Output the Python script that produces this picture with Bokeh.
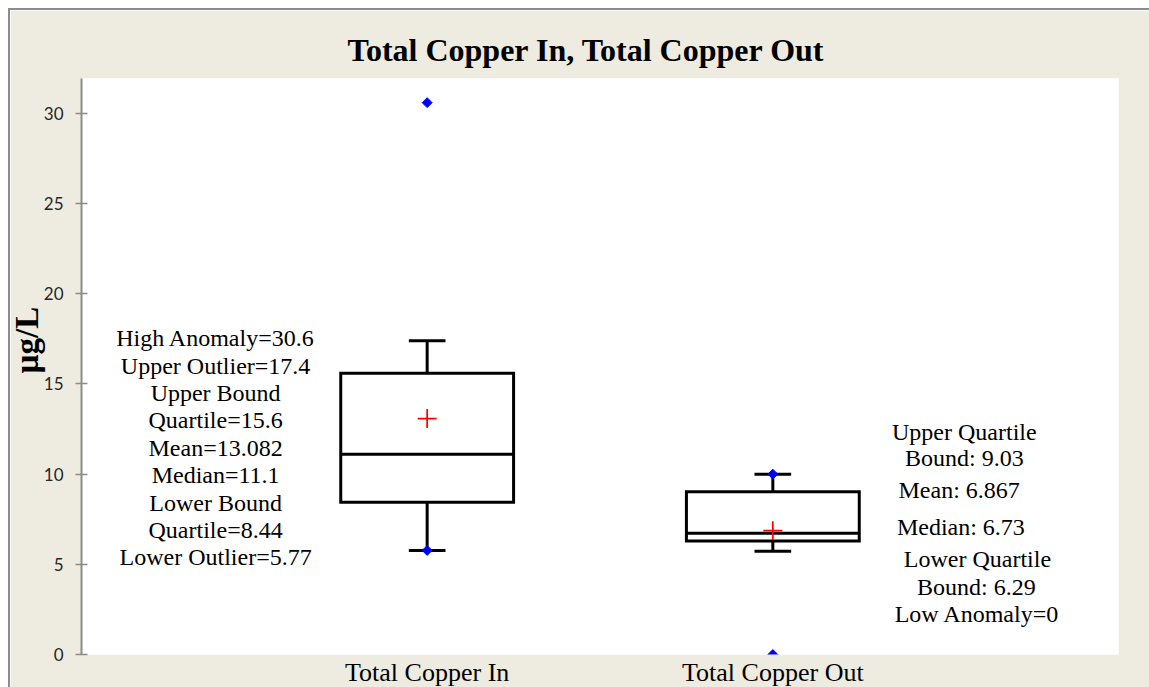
import numpy as np
from bokeh.plotting import figure
from bokeh.models import Range1d, FixedTicker, Label, ColumnDataSource, Title
from bokeh.embed import file_html
from bokeh.resources import INLINE

# ---------------- data ----------------
categories = ["Total Copper In", "Total Copper Out"]
lower_whisker = [5.77, 5.72]
q1 = [8.44, 6.29]
median = [11.1, 6.73]
q3 = [15.6, 9.03]
upper_whisker = [17.4, 10.0]
mean = [13.082, 6.867]
point_cat = [0, 0, 1, 1]          # index into categories
point_val = [30.6, 5.77, 10.0, 0.0]
high_anomaly_in = 30.6
low_anomaly_out = 0
y_ticks = [0, 5, 10, 15, 20, 25, 30]
title_text = "Total Copper In, Total Copper Out"
y_label = "µg/L"

# ---------------- styling / layout ----------------
BG = "#EEECE1"
SERIF = "Liberation Serif"
xpos = np.arange(1, len(categories) + 1, dtype=float)
box_half = 0.25
cap_half = 0.053

p = figure(width=1141, height=679,
           x_range=Range1d(0, 3), y_range=Range1d(0, 31.94),
           output_backend="svg", toolbar_location=None,
           background_fill_color="white", border_fill_color=BG,
           min_border_left=71, min_border_right=33,
           min_border_top=68, min_border_bottom=34)
p.styles = {"margin-left": "8px", "margin-top": "8px",
            "border-left": "2px solid #8c8c8c", "border-top": "2px solid #8c8c8c"}
p.outline_line_color = None
p.xgrid.visible = False
p.ygrid.visible = False

p.title.text = title_text
p.title.text_font = SERIF
p.title.text_font_style = "bold"
p.title.text_font_size = "32px"
p.title.text_color = "black"
p.title.align = "left"
p.title.offset = 266
p.title.standoff = 22

# x axis (categories)
p.xaxis.ticker = FixedTicker(ticks=list(xpos))
p.xaxis.major_label_overrides = {int(x): c for x, c in zip(xpos, categories)}
p.xaxis.axis_line_color = None
p.xaxis.major_tick_line_color = None
p.xaxis.minor_tick_line_color = None
p.xaxis.major_tick_out = 0
p.xaxis.major_tick_in = 0
p.xaxis.major_label_text_font = SERIF
p.xaxis.major_label_text_font_size = "26px"
p.xaxis.major_label_text_color = "black"
p.xaxis.major_label_standoff = 3

# y axis
p.yaxis.ticker = FixedTicker(ticks=y_ticks)
p.yaxis.axis_line_color = "#8c8c8c"
p.yaxis.axis_line_width = 2
p.yaxis.major_tick_line_color = "#8c8c8c"
p.yaxis.major_tick_line_width = 1.5
p.yaxis.major_tick_in = 6
p.yaxis.major_tick_out = 6
p.yaxis.minor_tick_line_color = None
p.yaxis.major_label_text_font = "Lato"
p.yaxis.major_label_text_font_size = "17px"
p.yaxis.major_label_text_color = "#262626"
p.yaxis.major_label_standoff = 12

# y-axis title as a side title (allows vertical offset like the original)
ylab = Title(text=y_label, align="left", offset=281,
             text_font=SERIF, text_font_style="bold", text_font_size="33px",
             text_color="black")
try:
    ylab.standoff = -9
except Exception:
    ylab.standoff = 0
    p.yaxis.major_label_standoff = 6
p.add_layout(ylab, "left")

src = ColumnDataSource(dict(
    x=xpos, left=xpos - box_half, right=xpos + box_half,
    cl=xpos - cap_half, cr=xpos + cap_half,
    lw=lower_whisker, q1=q1, med=median, q3=q3, uw=upper_whisker, mean=mean))

common = dict(line_color="black", line_width=3)
p.segment(x0="x", y0="q3", x1="x", y1="uw", source=src, **common)
p.segment(x0="x", y0="q1", x1="x", y1="lw", source=src, **common)
p.segment(x0="cl", y0="uw", x1="cr", y1="uw", source=src, **common)
p.segment(x0="cl", y0="lw", x1="cr", y1="lw", source=src, **common)
p.quad(left="left", right="right", bottom="q1", top="q3", source=src,
       fill_color="white", line_join="miter", **common)
p.segment(x0="left", y0="med", x1="right", y1="med", source=src, **common)
p.scatter(x="x", y="mean", source=src, marker="cross", size=19,
          line_color="red", line_width=1.75)
p.scatter(x=[xpos[i] for i in point_cat], y=point_val, marker="square",
          angle=np.pi / 4, size=7, fill_color="blue", line_color="blue")

# annotations
left_lines = [f"High Anomaly={high_anomaly_in}", f"Upper Outlier={upper_whisker[0]}",
              "Upper Bound", f"Quartile={q3[0]}", f"Mean={mean[0]}",
              f"Median={median[0]}", "Lower Bound", f"Quartile={q1[0]}",
              f"Lower Outlier={lower_whisker[0]}"]
left_x = 0.388
left_y = [17.54, 16.02, 14.50, 12.98, 11.46, 9.94, 8.42, 6.90, 5.38]
for t, yy in zip(left_lines, left_y):
    p.add_layout(Label(x=left_x, y=yy, text=t, text_font=SERIF, text_font_size="24px",
                       text_align="center", text_baseline="alphabetic", text_color="black"))

right_lines = ["Upper Quartile", f"Bound: {q3[1]}", f"Mean: {mean[1]}",
               f"Median: {median[1]}", "Lower Quartile", f"Bound: {q1[1]}",
               f"Low Anomaly={low_anomaly_out}"]
right_x = [2.554, 2.554, 2.539, 2.544, 2.592, 2.589, 2.591]
right_y = [12.35, 10.87, 9.12, 7.08, 5.31, 3.73, 2.24]
for t, xx, yy in zip(right_lines, right_x, right_y):
    p.add_layout(Label(x=xx, y=yy, text=t, text_font=SERIF, text_font_size="24px",
                       text_align="center", text_baseline="alphabetic", text_color="black"))

open("out.html", "w").write(file_html(p, INLINE))
